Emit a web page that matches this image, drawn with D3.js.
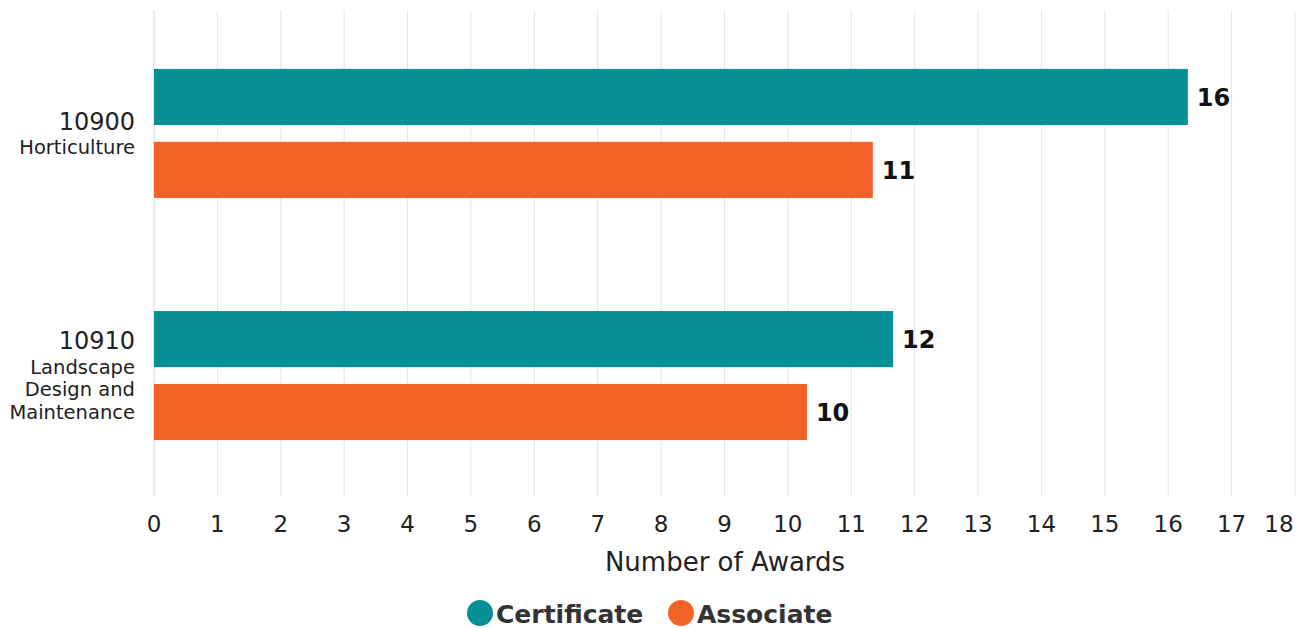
<!DOCTYPE html>
<html>
<head>
<meta charset="utf-8">
<script src="https://cdn.jsdelivr.net/npm/d3@7"></script>
<style>
  html, body { margin: 0; padding: 0; background: #fff; }
  svg { display: block; font-family: "DejaVu Sans", sans-serif; }
</style>
</head>
<body>
<svg id="chart" width="1302" height="628"></svg>
<script>
// ---- Data ----
const categories = ["10900", "10910"];
const categoryNames = [["Horticulture"], ["Landscape", "Design and", "Maintenance"]];
const seriesNames = ["Certificate", "Associate"];
const certificateValues = [16.31, 11.66];
const associateValues = [11.34, 10.30];
const xTicks = [0,1,2,3,4,5,6,7,8,9,10,11,12,13,14,15,16,17,18];
const colors = ["#078f96", "#f26125"];

const seriesValues = [certificateValues, associateValues];

const svg = d3.select("#chart");
const plotTop = 10, plotBottom = 496;

const x = d3.scaleLinear().domain([0, 18]).range([154, 1295]);
const y0 = d3.scaleBand().domain(categories).range([12, 497]).paddingInner(0.467).paddingOuter(0.235);
const y1 = d3.scaleBand().domain(seriesNames).range([0, y0.bandwidth()]).paddingInner(0.23);

// gridlines
svg.append("g").selectAll("line").data(xTicks).join("line")
  .attr("x1", d => x(d)).attr("x2", d => x(d))
  .attr("y1", plotTop).attr("y2", plotBottom)
  .attr("stroke", d => d === 0 ? "#ccd6de" : "#e6e6e6")
  .attr("stroke-width", 1);

// x axis tick labels
svg.append("g").selectAll("text").data(xTicks).join("text")
  .attr("x", d => d === 18 ? x(d) - 16 : x(d))
  .attr("y", 532)
  .attr("text-anchor", "middle")
  .attr("font-size", 23)
  .attr("fill", "#222")
  .text(d => d);

// x title
svg.append("text")
  .attr("x", 725)
  .attr("y", 571)
  .attr("text-anchor", "middle")
  .attr("font-size", 26)
  .attr("fill", "#222")
  .text("Number of Awards");

// bars
const groups = svg.append("g").selectAll("g").data(categories).join("g")
  .attr("transform", c => `translate(0,${y0(c)})`);

groups.each(function(c, ci) {
  const g = d3.select(this);
  seriesNames.forEach((s, si) => {
    const v = seriesValues[si][ci];
    g.append("rect")
      .attr("x", x(0))
      .attr("y", y1(s))
      .attr("width", x(v) - x(0))
      .attr("height", y1.bandwidth())
      .attr("fill", colors[si]);
    g.append("text")
      .attr("x", x(v) + 9)
      .attr("y", y1(s) + y1.bandwidth() / 2)
      .attr("dy", "0.36em")
      .attr("font-size", 24)
      .attr("font-weight", "bold")
      .attr("fill", "#111")
      .text(d3.format(".0f")(v));
  });
});

// y labels
categories.forEach((c, ci) => {
  const names = categoryNames[ci];
  const cy = y0(c) + y0.bandwidth() / 2;
  const codeH = 27, lineH = 22.5;
  const total = codeH + lineH * names.length;
  const top = cy - total / 2;
  const t = svg.append("text").attr("text-anchor", "end").attr("fill", "#222");
  t.append("tspan").attr("x", 135).attr("y", top + 21).attr("font-size", 24).text(c);
  names.forEach((n, i) => {
    t.append("tspan").attr("x", 135).attr("y", top + codeH + lineH * (i + 1) - 4)
      .attr("font-size", 19.5).text(n);
  });
});

// legend
const legend = svg.append("g");
const legendItems = [{name: seriesNames[0], cx: 480}, {name: seriesNames[1], cx: 681}];
legendItems.forEach((it, i) => {
  legend.append("circle").attr("cx", it.cx).attr("cy", 613).attr("r", 13).attr("fill", colors[i]);
  legend.append("text").attr("x", it.cx + 16).attr("y", 614).attr("dy", "0.36em")
    .attr("font-size", 25).attr("font-weight", "bold").attr("fill", "#333").text(it.name);
});
</script>
</body>
</html>
